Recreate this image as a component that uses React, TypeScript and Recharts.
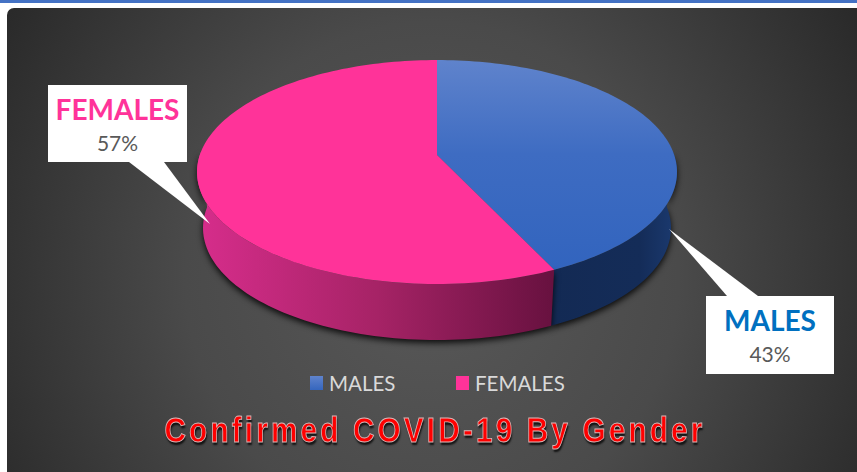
import React from "react";
import { PieChart, Pie, Legend } from "recharts";

const categories = ["MALES", "FEMALES"];
const shares = [43, 57];
const topFills = ["url(#maleTop)", "#FF3399"];
const wallFills = ["url(#maleWall)", "url(#femaleWall)"];
const titleText = "Confirmed COVID-19 By Gender";

const tableRows = categories.map((name, i) => ({
  name,
  value: shares[i],
  fill: topFills[i],
  wall: wallFills[i],
}));

const labelColors: Record<string, string> = { MALES: "#0070C0", FEMALES: "#FF3399" };
const legendSwatches: Record<string, string> = {
  MALES: "linear-gradient(180deg,#5F83CC,#3566BE)",
  FEMALES: "#FF3399",
};
const callouts: Record<string, { x: number; y: number; w: number; h: number; base: [number, number]; baseY: number; tip: [number, number] }> = {
  MALES: { x: 706, y: 296, w: 128, h: 78, base: [727, 758], baseY: 296, tip: [669, 229] },
  FEMALES: { x: 48, y: 85, w: 139, h: 77, base: [129, 164], baseY: 162, tip: [210, 224] },
};

// Tilted-disc projection with perspective
const P = 0.152;
const AX = 237.2 / 240;
const BY = 109.4 / 240;
const DEPTH = 56;
const BOTTOM_SCALE = 0.975;
const WALL_FROM = 2;
const WALL_TO = -182;

function project(cx: number, cy: number, r: number, deg: number) {
  const a = (deg * Math.PI) / 180;
  const u = Math.cos(a);
  const v = -Math.sin(a);
  const w = 1 - P * v;
  return { x: cx + (r * AX * u) / w, y: cy + (r * BY * v) / w };
}

function arc(cx: number, cy: number, r: number, from: number, to: number) {
  const n = Math.max(2, Math.ceil(Math.abs(to - from) / 1.5));
  const pts = [];
  for (let i = 0; i <= n; i++) pts.push(project(cx, cy, r, from + ((to - from) * i) / n));
  return pts;
}

const fmt = (p: { x: number; y: number }) => `${p.x.toFixed(2)} ${p.y.toFixed(2)}`;

function DiscSlice(props: any) {
  const { cx, cy, outerRadius, startAngle, endAngle, payload, fill } = props;
  const top = arc(cx, cy, outerRadius, startAngle, endAngle);
  const front = arc(
    cx,
    cy,
    outerRadius,
    Math.min(startAngle, WALL_FROM),
    Math.max(endAngle, WALL_TO)
  );
  const bottom = front
    .map((p) => ({ x: cx + (p.x - cx) * BOTTOM_SCALE, y: p.y + DEPTH }))
    .reverse();
  const wallPath = "M" + [...front, ...bottom].map(fmt).join("L") + "Z";
  const topPath = `M${cx} ${cy}L` + top.map(fmt).join("L") + "Z";
  const wall = payload?.wall ?? props.wall;
  return (
    <g>
      <path d={wallPath} fill={wall} style={{ filter: "drop-shadow(0px 3px 3px rgba(0,0,0,0.85))" }} />
      <path d={topPath} fill={fill} />
    </g>
  );
}

function Callout(props: any) {
  const { name, percent } = props;
  const c = callouts[name];
  if (!c) return null;
  const mid = c.x + c.w / 2;
  return (
    <g>
      <path
        d={`M${c.base[0]} ${c.baseY}L${c.tip[0]} ${c.tip[1]}L${c.base[1]} ${c.baseY}Z`}
        fill="#FFFFFF"
      />
      <rect x={c.x} y={c.y} width={c.w} height={c.h} fill="#FFFFFF" />
      <text
        x={mid}
        y={c.y + 35}
        textAnchor="middle"
        fontFamily="Lato, sans-serif"
        fontWeight={700}
        fontSize={28}
        fill={labelColors[name]}
      >
        {name}
      </text>
      <text
        x={mid}
        y={c.y + 66}
        textAnchor="middle"
        fontFamily="Lato, sans-serif"
        fontSize={21}
        fill="#595959"
      >
        {Math.round(percent * 100)}%
      </text>
    </g>
  );
}

function LegendRow(props: any) {
  const items = props.payload || [];
  return (
    <div style={{ position: "relative", height: 28, fontFamily: "Lato, sans-serif" }}>
      {items.map((it: any, i: number) => (
        <div
          key={it.value}
          style={{
            position: "absolute",
            left: i === 0 ? 310 : 456,
            top: 0,
            display: "flex",
            alignItems: "center",
            height: 28,
            color: "#D9D9D9",
            fontSize: 20.5,
            whiteSpace: "nowrap",
          }}
        >
          <span
            style={{
              display: "inline-block",
              width: 13,
              height: 14,
              marginRight: 6,
              background: legendSwatches[it.value],
            }}
          />
          {it.value}
        </div>
      ))}
    </div>
  );
}

export default function App() {
  return (
    <div style={{ position: "absolute", left: 0, top: 0, width: 857, height: 472, background: "#FFFFFF", overflow: "hidden" }}>
      <div style={{ position: "absolute", left: 0, top: 0, width: 857, height: 3, background: "#4472C4" }} />
      <div
        style={{
          position: "absolute",
          left: 7,
          top: 8,
          width: 850,
          height: 464,
          borderTopLeftRadius: 7,
          background: "radial-gradient(ellipse 58% 110% at 50% 58%, #585858 0%, #4A4A4A 50%, #2A2A2A 100%)",
        }}
      />
      <div style={{ position: "absolute", left: 0, top: 0 }}>
        <PieChart width={857} height={472} margin={{ top: 0, right: 0, bottom: 0, left: 0 }}>
          <defs>
            <linearGradient id="maleTop" gradientUnits="userSpaceOnUse" x1="0" y1="60" x2="0" y2="270">
              <stop offset="0" stopColor="#5F83CC" />
              <stop offset="0.45" stopColor="#3E6CC2" />
              <stop offset="1" stopColor="#3264BE" />
            </linearGradient>
            <linearGradient id="maleWall" gradientUnits="userSpaceOnUse" x1="552" y1="0" x2="677" y2="0">
              <stop offset="0" stopColor="#132A54" />
              <stop offset="0.7" stopColor="#142C58" />
              <stop offset="1" stopColor="#1B3A70" />
            </linearGradient>
            <linearGradient id="femaleWall" gradientUnits="userSpaceOnUse" x1="200" y1="0" x2="555" y2="0">
              <stop offset="0" stopColor="#D62D8B" />
              <stop offset="0.5" stopColor="#A62366" />
              <stop offset="1" stopColor="#67113F" />
            </linearGradient>
          </defs>
          <Pie
            data={tableRows}
            dataKey="value"
            nameKey="name"
            cx={437}
            cy={155}
            innerRadius={0}
            outerRadius={240}
            startAngle={90}
            endAngle={-270}
            stroke="none"
            isAnimationActive={false}
            shape={DiscSlice}
            label={Callout}
            labelLine={false}
          />
          <Legend
            content={LegendRow}
            itemSorter={null}
            wrapperStyle={{ position: "absolute", left: 0, top: 369, width: 857, height: 28 }}
          />
        </PieChart>
      </div>
      <div
        style={{
          position: "absolute",
          left: 0,
          top: 408,
          width: 870,
          textAlign: "center",
          fontFamily: "'Liberation Sans', Arial, sans-serif",
          fontWeight: 700,
          fontSize: 35,
          letterSpacing: 3.7,
          lineHeight: "44px",
          color: "#FF0000",
          WebkitTextStroke: "0.9px #D9B8B8",
          textShadow: "1px 3px 2px rgba(0,0,0,0.75)",
          whiteSpace: "nowrap",
          transform: "scaleX(0.85)",
          transformOrigin: "50% 50%",
        }}
      >
        {titleText}
      </div>
    </div>
  );
}
